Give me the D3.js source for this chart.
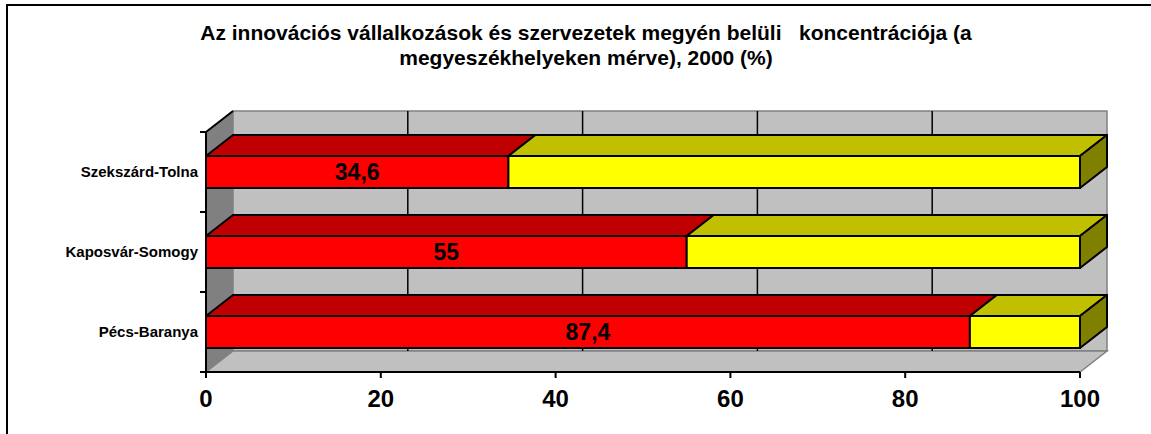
<!DOCTYPE html>
<html>
<head>
<meta charset="utf-8">
<script src="https://cdn.jsdelivr.net/npm/d3@7"></script>
<style>
  body { margin: 0; background: #fff; }
  svg { display: block; font-family: "Liberation Sans", Arial, sans-serif; }
</style>
</head>
<body>
<div id="chart"></div>
<script>
// Data
const categories = ["Szekszárd-Tolna", "Kaposvár-Somogy", "Pécs-Baranya"];
const concentration = [34.6, 55, 87.4];
const valueLabels = ["34,6", "55", "87,4"];
const xTicks = [0, 20, 40, 60, 80, 100];
const titleLines = [
  "Az innovációs vállalkozások és szervezetek megyén belüli   koncentrációja (a",
  "megyeszékhelyeken mérve), 2000 (%)"
];

const W = 1151, H = 434;
const DX = 27, DY = -21; // 3D depth offset

const svg = d3.select("#chart").append("svg")
  .attr("width", W).attr("height", H);

// outer frame (runs off right/bottom edge)
svg.append("rect")
  .attr("x", 7).attr("y", 5).attr("width", W + 10).attr("height", H + 10)
  .attr("fill", "none").attr("stroke", "#000").attr("stroke-width", 2);

// title
svg.append("g").selectAll("text")
  .data(titleLines)
  .join("text")
  .attr("x", 586)
  .attr("y", (d, i) => 40 + i * 25)
  .attr("text-anchor", "middle")
  .attr("font-size", "21px")
  .attr("font-weight", "bold")
  .attr("xml:space", "preserve")
  .style("white-space", "pre")
  .text(d => d);

const x = d3.scaleLinear().domain([0, 100]).range([206, 1080]);
const y = d3.scaleBand().domain(categories).range([132, 372])
  .paddingInner(0.6).paddingOuter(0.3);

const yTop = y.range()[0], yBot = y.range()[1];
const x0 = x(0), x1 = x(100);

// walls
const walls = svg.append("g");
// left side wall
walls.append("polygon")
  .attr("points", [[x0, yTop], [x0 + DX, yTop + DY], [x0 + DX, yBot + DY], [x0, yBot]].join(" "))
  .attr("fill", "#808080").attr("stroke", "#808080");
// back wall
walls.append("rect")
  .attr("x", x0 + DX).attr("y", yTop + DY)
  .attr("width", x1 - x0).attr("height", yBot - yTop)
  .attr("fill", "#C0C0C0").attr("stroke", "#808080").attr("stroke-width", 1.5);
// floor
walls.append("polygon")
  .attr("points", [[x0, yBot], [x0 + DX, yBot + DY], [x1 + DX, yBot + DY], [x1, yBot]].join(" "))
  .attr("fill", "#C0C0C0").attr("stroke", "#808080").attr("stroke-width", 1.5);

// gridlines on back wall
walls.selectAll("line.grid")
  .data(xTicks.filter(t => t > 0 && t < 100))
  .join("line")
  .attr("class", "grid")
  .attr("x1", d => x(d) + DX).attr("x2", d => x(d) + DX)
  .attr("y1", yTop + DY).attr("y2", yBot + DY)
  .attr("stroke", "#000").attr("stroke-width", 1.5);

// axes lines
const axes = svg.append("g").attr("stroke", "#000").attr("stroke-width", 2);
axes.append("line").attr("x1", x0).attr("x2", x0).attr("y1", yTop).attr("y2", yBot);
axes.append("line").attr("x1", x0).attr("x2", x1).attr("y1", yBot).attr("y2", yBot);
axes.append("line").attr("x1", x0).attr("x2", x0 + DX).attr("y1", yTop).attr("y2", yTop + DY);

// category boundary ticks
const step = y.step();
const catTicks = d3.range(categories.length + 1).map(i => yTop + i * step);
axes.selectAll("line.ytick").data(catTicks).join("line")
  .attr("class", "ytick")
  .attr("x1", x0 - 6).attr("x2", x0).attr("y1", d => d).attr("y2", d => d);
axes.selectAll("line.xtick").data(xTicks).join("line")
  .attr("class", "xtick")
  .attr("x1", d => x(d)).attr("x2", d => x(d)).attr("y1", yBot).attr("y2", yBot + 6);

// x tick labels
svg.append("g").selectAll("text").data(xTicks).join("text")
  .attr("x", d => x(d)).attr("y", yBot + 35)
  .attr("text-anchor", "middle")
  .attr("font-size", "24px").attr("font-weight", "bold")
  .text(d => d);

// category labels
svg.append("g").selectAll("text").data(categories).join("text")
  .attr("x", 198)
  .attr("y", d => y(d) + y.bandwidth() / 2 + 5)
  .attr("text-anchor", "end")
  .attr("font-size", "15px").attr("font-weight", "bold")
  .text(d => d);

// bars
function box(g, a, b, yy, h, front, topc, side, drawSide) {
  const xa = x(a), xb = x(b);
  g.append("polygon")
    .attr("points", [[xa, yy], [xa + DX, yy + DY], [xb + DX, yy + DY], [xb, yy]].join(" "))
    .attr("fill", topc);
  g.append("rect")
    .attr("x", xa).attr("y", yy).attr("width", xb - xa).attr("height", h)
    .attr("fill", front);
  if (drawSide) {
    g.append("polygon")
      .attr("points", [[xb, yy], [xb + DX, yy + DY], [xb + DX, yy + h + DY], [xb, yy + h]].join(" "))
      .attr("fill", side);
  }
}

const bars = svg.append("g")
  .attr("stroke", "#000").attr("stroke-width", 2).attr("stroke-linejoin", "round");

categories.forEach((c, i) => {
  const v = concentration[i];
  const g = bars.append("g");
  const yy = y(c), h = y.bandwidth();
  box(g, 0, v, yy, h, "#FF0000", "#C00000", "#800000", false);
  box(g, v, 100, yy, h, "#FFFF00", "#C0C000", "#808000", true);
});

// value labels
svg.append("g").selectAll("text").data(categories).join("text")
  .attr("x", (d, i) => x(concentration[i] / 2))
  .attr("y", d => y(d) + y.bandwidth() / 2 + 8)
  .attr("text-anchor", "middle")
  .attr("font-size", "23px").attr("font-weight", "bold")
  .text((d, i) => valueLabels[i]);
</script>
</body>
</html>
